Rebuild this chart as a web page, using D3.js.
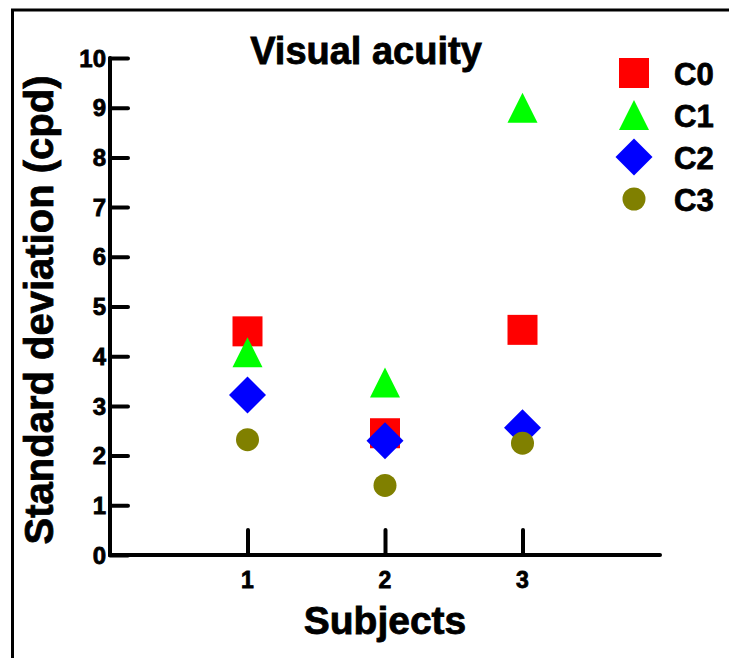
<!DOCTYPE html>
<html>
<head>
<meta charset="utf-8">
<script src="https://cdn.jsdelivr.net/npm/d3@7"></script>
<style>
  html, body { margin: 0; padding: 0; background: #fff; }
  svg { display: block; }
  svg text { font-family: "Liberation Sans", Arial, Helvetica, sans-serif; font-weight: bold; fill: #000; stroke: #000; stroke-width: 0.8px; }
</style>
</head>
<body>
<svg id="chart" width="729" height="658"></svg>
<script>
// Subjects on the x axis
const subjects = [1, 2, 3];
const xTicks = [1, 2, 3];
const yTicks = [0, 1, 2, 3, 4, 5, 6, 7, 8, 9, 10];

// Standard deviation (cpd) per condition, one value per subject
const seriesNames = ["C0", "C1", "C2", "C3"];
const c0 = [4.5, 2.45, 4.53];
const c1 = [4.08, 3.47, 9.0];
const c2 = [3.22, 2.3, 2.56];
const c3 = [2.32, 1.4, 2.25];

const svg = d3.select("#chart");

// outer frame
svg.append("rect")
  .attr("x", 12.5).attr("y", 10)
  .attr("width", 760).attr("height", 700)
  .attr("fill", "none").attr("stroke", "#000").attr("stroke-width", 3);

const x = d3.scaleLinear().domain([0, 4]).range([110, 660]);
const y = d3.scaleLinear().domain([0, 10]).range([555, 58]);

// y axis: line with inward ticks
const yAxis = d3.axisRight(y).tickValues(yTicks).tickSize(18).tickFormat("");
const gy = svg.append("g").attr("transform", `translate(${x(0)},0)`).call(yAxis);
gy.select(".domain").attr("d", `M0,${y(10)}V${y(0)}`)
  .attr("stroke-width", 4).attr("stroke-linecap", "round");
gy.selectAll(".tick line").attr("stroke-width", 4).attr("stroke-linecap", "round");
gy.selectAll(".tick text").remove();

svg.append("g").selectAll("text").data(yTicks).join("text")
  .attr("x", x(0) - 4).attr("y", d => y(d))
  .attr("dy", "0.36em")
  .attr("text-anchor", "end")
  .style("font-size", "24px")
  .text(d => d);

// x axis: line with upward ticks
const xAxis = d3.axisTop(x).tickValues(xTicks).tickSize(25).tickFormat("");
const gx = svg.append("g").attr("transform", `translate(0,${y(0)})`).call(xAxis);
gx.select(".domain").attr("d", `M${x(0)},0H${x(4)}`)
  .attr("stroke-width", 4).attr("stroke-linecap", "round");
gx.selectAll(".tick line").attr("stroke-width", 4).attr("stroke-linecap", "round");
gx.selectAll(".tick text").remove();

svg.append("g").selectAll("text").data(xTicks).join("text")
  .attr("x", d => x(d)).attr("y", 588)
  .attr("text-anchor", "middle")
  .style("font-size", "23px")
  .text(d => d);

// titles
svg.append("text").attr("x", 366).attr("y", 64)
  .attr("text-anchor", "middle").style("font-size", "38px")
  .text("Visual acuity");

svg.append("text").attr("x", 385).attr("y", 634)
  .attr("text-anchor", "middle").style("font-size", "39px")
  .text("Subjects");

svg.append("text")
  .attr("transform", `translate(53,310) rotate(-90)`)
  .attr("text-anchor", "middle").style("font-size", "40px")
  .text("Standard deviation (cpd)");

// marker shapes
const shapes = {
  square: () => "M-15,-15H15V15H-15Z",
  triangle: () => "M0,-15L15,15H-15Z",
  diamond: () => "M0,-18.5L18.5,0L0,18.5L-18.5,0Z",
  circle: () => d3.symbol(d3.symbolCircle, Math.PI * 11.5 * 11.5)()
};

const series = [
  { name: seriesNames[0], values: c0, color: "#ff0000", shape: "square" },
  { name: seriesNames[1], values: c1, color: "#00ff00", shape: "triangle" },
  { name: seriesNames[2], values: c2, color: "#0000ff", shape: "diamond" },
  { name: seriesNames[3], values: c3, color: "#808000", shape: "circle" }
];

series.forEach(s => {
  svg.append("g").selectAll("path")
    .data(s.values.map((v, i) => ({ subject: subjects[i], value: v })))
    .join("path")
    .attr("transform", d => `translate(${x(d.subject)},${y(d.value)})`)
    .attr("d", shapes[s.shape]())
    .attr("fill", s.color);
});

// legend
const legend = svg.append("g");
series.forEach((s, i) => {
  const cy = 73 + i * 42;
  legend.append("path")
    .attr("transform", `translate(634,${cy})`)
    .attr("d", shapes[s.shape]())
    .attr("fill", s.color);
  legend.append("text")
    .attr("x", 674).attr("y", cy + 1)
    .attr("dy", "0.36em")
    .style("font-size", "31px")
    .text(s.name);
});
</script>
</body>
</html>
